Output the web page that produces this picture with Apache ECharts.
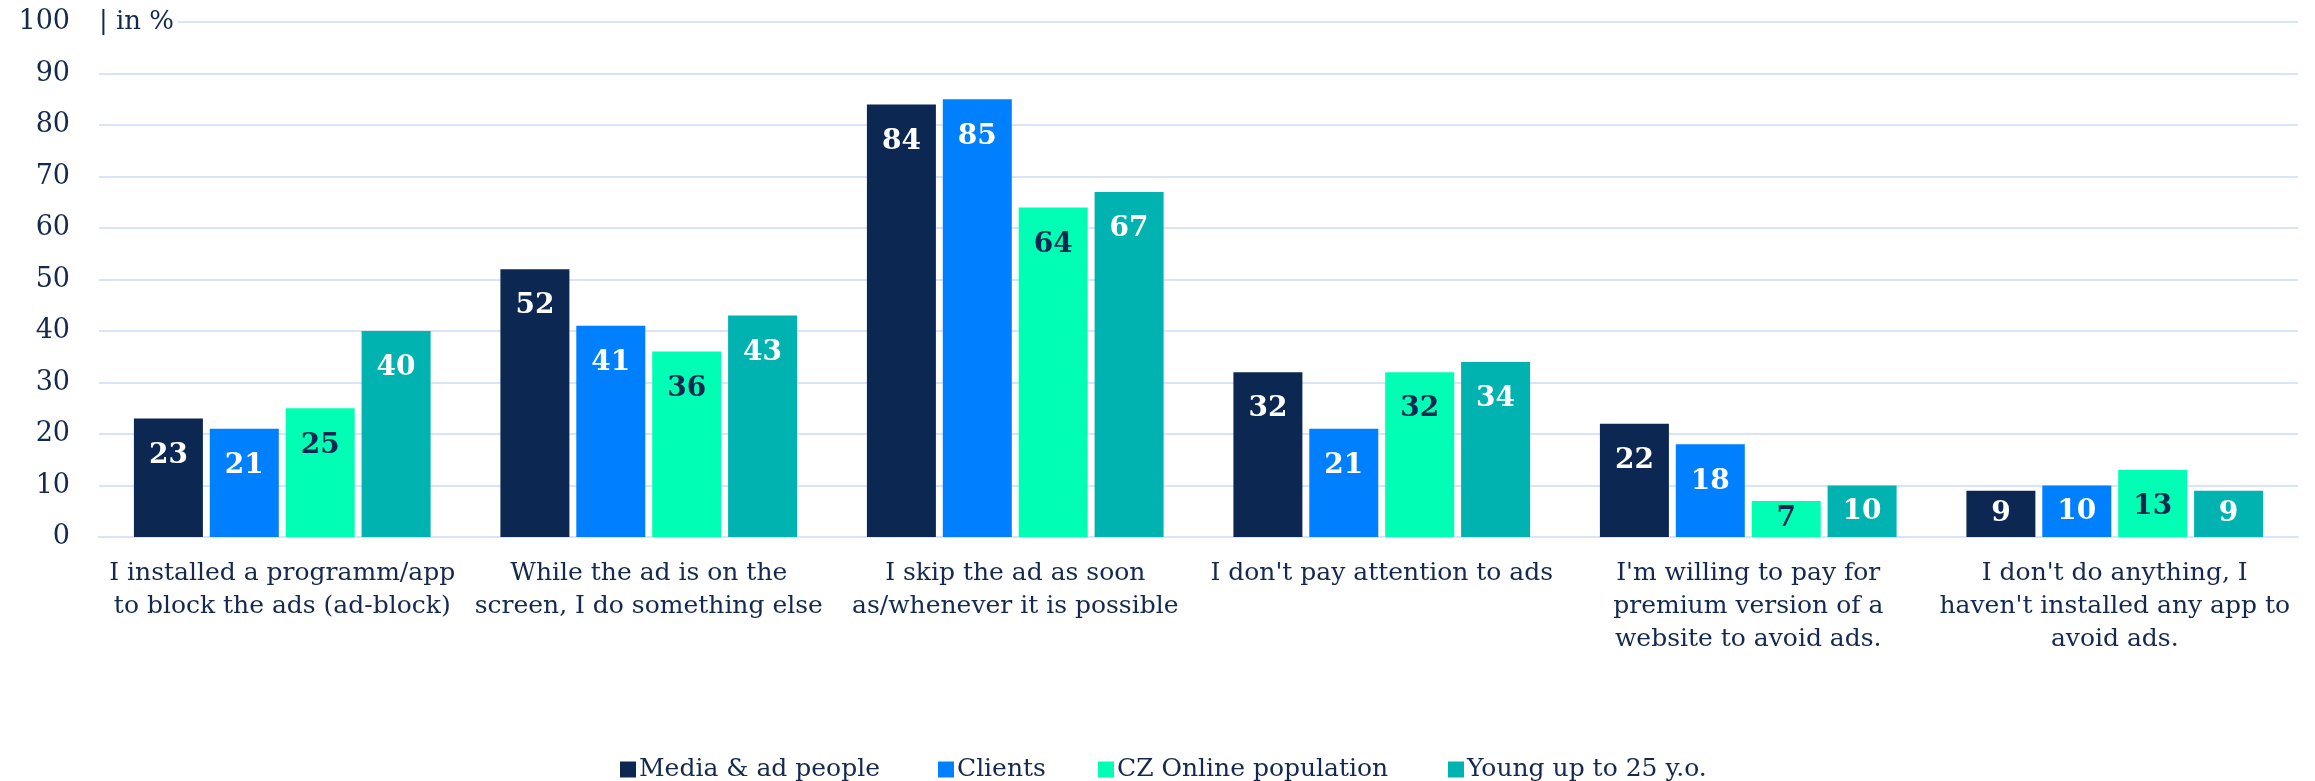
<!DOCTYPE html>
<html>
<head>
<meta charset="utf-8">
<script src="https://cdn.jsdelivr.net/npm/echarts@6/dist/echarts.min.js"></script>
<style>
  html, body { margin: 0; padding: 0; background: #ffffff; }
  #chart { width: 2315px; height: 781px; }
</style>
</head>
<body>
<div id="chart"></div>
<script>
// Survey answers: how people deal with online ads (share of respondents, %)
const categories = [
  "I installed a programm/app\nto block the ads (ad-block)",
  "While the ad is on the\nscreen, I do something else",
  "I skip the ad as soon\nas/whenever it is possible",
  "I don't pay attention to ads",
  "I'm willing to pay for\npremium version of a\nwebsite to avoid ads.",
  "I don't do anything, I\nhaven't installed any app to\navoid ads."
];

const seriesNames = ["Media & ad people", "Clients", "CZ Online population", "Young up to 25 y.o."];

const mediaAdPeople   = [23, 52, 84, 32, 22, 9];
const clients         = [21, 41, 85, 21, 18, 10];
const czOnline        = [25, 36, 64, 32, 7, 13];
const youngUpTo25     = [40, 43, 67, 34, 10, 9];

const yTicks = { min: 0, max: 100, interval: 10 };

const seriesValues = [mediaAdPeople, clients, czOnline, youngUpTo25];
const seriesColors = ["#0C2852", "#0080FF", "#00FFB4", "#00B3B0"];
const labelColors  = ["#FFFFFF", "#FFFFFF", "#0C2852", "#FFFFFF"];

const textColor = "#13294F";
const gridColor = "#D9E4F8";
const font = "DejaVu Serif";

// Legend entries sit in their own slots along the bottom row
const legendSlots = [615, 933, 1093, 1443];

// Short bars get their value label centred; taller ones keep it near the top
function barData(values) {
  return values.map(v => v < 13
    ? { value: v, label: { position: "inside", distance: 0 } }
    : { value: v });
}

const chart = echarts.init(document.getElementById("chart"), null, { renderer: "canvas" });

chart.setOption({
  animation: false,
  backgroundColor: "#ffffff",
  textStyle: { fontFamily: font, color: textColor },
  grid: { left: 99, right: 17, top: 22, bottom: 244, containLabel: false },
  legend: seriesNames.map((name, i) => ({
    data: [name],
    left: legendSlots[i],
    top: 752,
    itemWidth: 16,
    itemHeight: 16,
    icon: "rect",
    textStyle: { fontFamily: font, fontSize: 25, color: textColor, padding: [0, 0, 0, -2] }
  })),
  xAxis: {
    type: "category",
    data: categories,
    axisLine: { show: true, lineStyle: { color: gridColor, width: 2 } },
    axisTick: { show: false },
    axisLabel: {
      interval: 0,
      margin: 20,
      fontFamily: font,
      fontSize: 25,
      lineHeight: 33,
      color: textColor,
      align: "center"
    }
  },
  yAxis: {
    type: "value",
    min: yTicks.min,
    max: yTicks.max,
    interval: yTicks.interval,
    name: "| in %",
    nameLocation: "end",
    nameGap: 0,
    nameTextStyle: {
      fontFamily: font,
      fontSize: 26,
      color: textColor,
      align: "left",
      verticalAlign: "middle",
      backgroundColor: "#ffffff",
      padding: [0, 4, 0, 0]
    },
    axisLine: { show: false },
    axisTick: { show: false },
    splitLine: { show: true, lineStyle: { color: gridColor, width: 2 } },
    axisLabel: {
      margin: 29,
      fontFamily: font,
      fontSize: 27,
      color: textColor
    }
  },
  series: seriesValues.map((vals, i) => ({
    name: seriesNames[i],
    type: "bar",
    data: barData(vals),
    barWidth: 69,
    barGap: "10%",
    itemStyle: { color: seriesColors[i] },
    label: {
      show: true,
      position: "insideTop",
      distance: 23,
      fontFamily: font,
      fontWeight: "bold",
      fontSize: 28,
      color: labelColors[i]
    }
  }))
});
</script>
</body>
</html>
